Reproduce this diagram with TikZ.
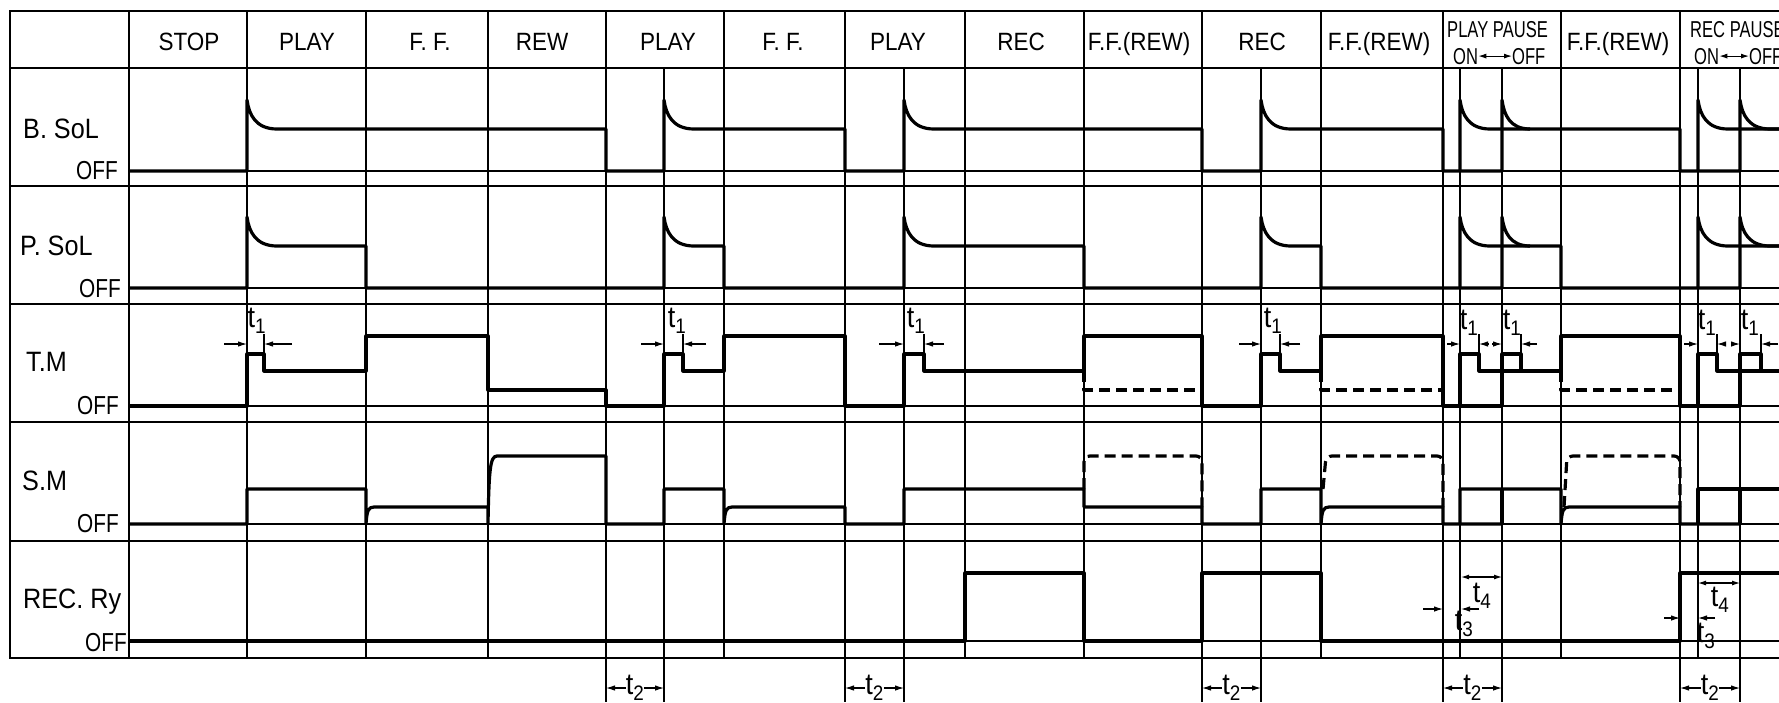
\documentclass[tikz,border=0pt]{standalone}
\usepackage{fontspec}
\setmainfont{Liberation Sans}[FakeStretch=0.9]
\newfontfamily\narrowfont{Liberation Sans}[FakeStretch=0.72]
\newfontfamily\offfont{Liberation Sans}[FakeStretch=0.8]
\usetikzlibrary{arrows.meta}
\begin{document}
\begin{tikzpicture}[x=1pt,y=-1pt,
  grid/.style={line width=1.1pt},
  frame/.style={line width=2pt},
  wave/.style={line width=3.2pt, line join=round},
  dashwave/.style={wave, dash pattern=on 11pt off 6pt},
  dim/.style={line width=1.1pt, -{Latex[length=9pt,width=5.5pt]}},
  dimb/.style={line width=1.1pt, {Latex[length=8pt,width=5pt]}-{Latex[length=8pt,width=5pt]}},
  hdr/.style={font=\fontsize{25}{30}\selectfont, inner sep=0pt, anchor=base},
  hdrn/.style={font=\narrowfont\fontsize{23}{28}\selectfont, inner sep=0pt, anchor=base west},
  lbl/.style={font=\fontsize{28}{32}\selectfont, inner sep=0pt, anchor=base west},
  offl/.style={font=\offfont\fontsize{26}{30}\selectfont, inner sep=0pt, anchor=base east},
  tl/.style={font=\fontsize{30}{34}\selectfont, inner sep=0pt}]
\fill[white] (0,0) rectangle (1779,702);
\useasboundingbox (0,0) rectangle (1779,702);
\clip (0,0) rectangle (1779,702);

% ---------- grid ----------
\foreach \y in {68,186,304,422,541} \draw[grid] (10,\y) -- (1779,\y);
\foreach \y in {171,288,406,524,641} \draw[grid] (129,\y) -- (1779,\y);
\foreach \x in {129,247,366,488,606,724,845,965,1084,1202,1321,1443,1561,1680}
  \draw[grid] (\x,11) -- (\x,658);
\foreach \x in {664,904,1261,1460,1502,1698,1740}
  \draw[grid] (\x,68) -- (\x,658);
\foreach \x in {606,664,845,904,1202,1261,1443,1502,1680,1740}
  \draw[grid] (\x,658) -- (\x,702);
\draw[frame] (1779,11) -- (10,11) -- (10,658) -- (1779,658);

% ---------- header ----------
\node[hdr] (hstop)  at (189,50) {STOP};
\node[hdr] (hplay1) at (307,50) {PLAY};
\node[hdr] (hff1)   at (430,50) {F. F.};
\node[hdr] (hrew)   at (542,50) {REW};
\node[hdr] (hplay2) at (668,50) {PLAY};
\node[hdr] (hff2)   at (783,50) {F. F.};
\node[hdr] (hplay3) at (898,50) {PLAY};
\node[hdr] (hrec1)  at (1021,50) {REC};
\node[hdr] (hffr1)  at (1139,50) {F.F.(REW)};
\node[hdr] (hrec2)  at (1262,50) {REC};
\node[hdr] (hffr2)  at (1379,50) {F.F.(REW)};
\node[hdrn] (hpp)    at (1447,37) {PLAY PAUSE};
\node[hdrn] (hppon)  at (1453,64) {ON};
\node[hdrn] (hppoff) at (1512,64) {OFF};
\draw[dimb] (hppon.east) -- (hppoff.west);
\node[hdr] (hffr3)  at (1618,50) {F.F.(REW)};
\node[hdrn] (hrp)    at (1690,37) {REC PAUSE};
\node[hdrn] (hrpon)  at (1694,64) {ON};
\node[hdrn] (hrpoff) at (1749,64) {OFF};
\draw[dimb] (hrpon.east) -- (hrpoff.west);

% ---------- row labels ----------
\node[lbl] (lbsol) at (23,138) {B. SoL};
\node[offl] (obsol) at (118,179) {OFF};
\node[lbl] (lpsol) at (20,255) {P. SoL};
\node[offl] (opsol) at (121,297) {OFF};
\node[lbl] (ltm) at (26,371) {T.M};
\node[offl] (otm) at (119,414) {OFF};
\node[lbl] (lsm) at (22,490) {S.M};
\node[offl] (osm) at (119,532) {OFF};
\node[lbl] (lrec) at (23,608) {REC. Ry};
\node[offl] (orec) at (127,651) {OFF};

% ---------- B.SoL ----------
\draw[wave] (129,171) -- (247,171) -- (247,100) .. controls (249,115) and (256,129) .. (277,129)
  -- (606,129) -- (606,171) -- (664,171) -- (664,100) .. controls (666,115) and (673,129) .. (694,129)
  -- (845,129) -- (845,171) -- (904,171) -- (904,100) .. controls (906,115) and (913,129) .. (934,129)
  -- (1202,129) -- (1202,171) -- (1261,171) -- (1261,100) .. controls (1263,115) and (1270,129) .. (1291,129)
  -- (1443,129) -- (1443,171) -- (1502,171) -- (1502,100) .. controls (1504,115) and (1510,129) .. (1530,129);
\draw[wave] (1460,171) -- (1460,100) .. controls (1462,115) and (1469,129) .. (1490,129)
  -- (1680,129) -- (1680,171) -- (1740,171) -- (1740,100) .. controls (1742,115) and (1749,129) .. (1770,129) -- (1779,129);
\draw[wave] (1698,171) -- (1698,100) .. controls (1700,115) and (1707,129) .. (1728,129) -- (1779,129);

% ---------- P.SoL ----------
\draw[wave] (129,288) -- (247,288) -- (247,217) .. controls (249,232) and (256,246) .. (277,246)
  -- (366,246) -- (366,288) -- (664,288) -- (664,217) .. controls (666,232) and (673,246) .. (694,246)
  -- (724,246) -- (724,288) -- (904,288) -- (904,217) .. controls (906,232) and (913,246) .. (934,246)
  -- (1084,246) -- (1084,288) -- (1261,288) -- (1261,217) .. controls (1263,232) and (1270,246) .. (1291,246)
  -- (1321,246) -- (1321,288) -- (1502,288) -- (1502,217) .. controls (1504,232) and (1510,246) .. (1530,246);
\draw[wave] (1460,288) -- (1460,217) .. controls (1462,232) and (1469,246) .. (1490,246)
  -- (1561,246) -- (1561,288) -- (1740,288) -- (1740,217) .. controls (1742,232) and (1749,246) .. (1770,246) -- (1779,246);
\draw[wave] (1698,288) -- (1698,217) .. controls (1700,232) and (1707,246) .. (1728,246) -- (1779,246);

% ---------- T.M ----------
\draw[wave] (129,406) -- (247,406) -- (247,354) -- (264,354) -- (264,371) -- (366,371) -- (366,336)
  -- (488,336) -- (488,390) -- (606,390) -- (606,406) -- (664,406) -- (664,354) -- (683,354) -- (683,371)
  -- (724,371) -- (724,336) -- (845,336) -- (845,406) -- (904,406) -- (904,354) -- (924,354) -- (924,371)
  -- (1084,371) -- (1084,336) -- (1202,336) -- (1202,406) -- (1261,406) -- (1261,354) -- (1280,354)
  -- (1280,371) -- (1321,371) -- (1321,336) -- (1443,336) -- (1443,406) -- (1502,406);
\draw[wave] (1460,406) -- (1460,354) -- (1479,354) -- (1479,371) -- (1561,371) -- (1561,336)
  -- (1680,336) -- (1680,406) -- (1740,406);
\draw[wave] (1502,406) -- (1502,354) -- (1521,354) -- (1521,371);
\draw[wave] (1698,406) -- (1698,354) -- (1717,354) -- (1717,371) -- (1779,371);
\draw[wave] (1740,406) -- (1740,354) -- (1761,354) -- (1761,371);
\draw[dashwave] (1084,371) -- (1084,390) -- (1202,390);
\draw[dashwave] (1321,371) -- (1321,390) -- (1443,390);
\draw[dashwave] (1561,371) -- (1561,390) -- (1680,390);

% t1 dimensions
\foreach \r/\e/\lt/\rt/\n in {247/264/224/292/a, 664/683/641/706/b, 904/924/879/944/c,
    1261/1280/1239/1300/d, 1460/1479/1447/1489/e, 1502/1521/1492/1537/f,
    1698/1717/1684/1726/g, 1740/1761/1732/1778/h} {
  \coordinate (t1l\n) at (\lt,344);
  \coordinate (t1r\n) at (\rt,344);
  \draw[dim] (t1l\n) -- (\r,344);
  \draw[dim] (t1r\n) -- (\e,344);
  \draw[grid] (\e,334) -- (\e,354);
}
\node[tl] (t1a) at (257,321) {t\textsubscript{1}};
\node[tl] (t1b) at (677,321) {t\textsubscript{1}};
\node[tl] (t1c) at (916,321) {t\textsubscript{1}};
\node[tl] (t1d) at (1273,321) {t\textsubscript{1}};
\node[tl] (t1e) at (1469,323) {t\textsubscript{1}};
\node[tl] (t1f) at (1512,323) {t\textsubscript{1}};
\node[tl] (t1g) at (1707,323) {t\textsubscript{1}};
\node[tl] (t1h) at (1750,323) {t\textsubscript{1}};

% ---------- S.M ----------
\draw[wave] (129,524) -- (247,524) -- (247,489) -- (366,489) -- (366,524)
  .. controls (367,511) and (368,507) .. (374,507) -- (488,507) -- (488,524)
  .. controls (489,470) and (490,456) .. (497,456) -- (606,456) -- (606,524) -- (664,524)
  -- (664,489) -- (724,489) -- (724,524) .. controls (725,511) and (726,507) .. (732,507)
  -- (845,507) -- (845,524) -- (904,524) -- (904,489) -- (1084,489) -- (1084,507) -- (1202,507)
  -- (1202,524) -- (1261,524) -- (1261,489) -- (1321,489) -- (1321,524)
  .. controls (1322,511) and (1323,507) .. (1329,507) -- (1443,507) -- (1443,524) -- (1502,524);
\draw[wave] (1460,524) -- (1460,489) -- (1561,489) -- (1561,524)
  .. controls (1562,511) and (1563,507) .. (1569,507) -- (1680,507) -- (1680,524) -- (1740,524);
\draw[wave] (1502,524) -- (1502,489);
\draw[wave] (1698,524) -- (1698,489) -- (1779,489);
\draw[wave] (1740,524) -- (1740,489);
\draw[dashwave, rounded corners=6pt] (1084,489) -- (1084,456) -- (1202,456) -- (1202,507);
\draw[dashwave, rounded corners=6pt] (1323,489) -- (1326,456) -- (1443,456) -- (1443,507);
\draw[dashwave, rounded corners=6pt] (1564,507) -- (1567,456) -- (1680,456) -- (1680,507);

% ---------- REC.Ry ----------
\draw[wave] (129,641) -- (965,641) -- (965,573) -- (1084,573) -- (1084,641) -- (1202,641)
  -- (1202,573) -- (1321,573) -- (1321,641) -- (1680,641) -- (1680,573) -- (1779,573);

% t3 / t4 dimensions
\coordinate (t3pa) at (1423,609);
\coordinate (t3pb) at (1479,609);
\draw[dim] (t3pa) -- (1443,609);
\draw[dim] (t3pb) -- (1461,609);
\node[tl] (t3p) at (1464,624) {t\textsubscript{3}};
\coordinate (t4pa) at (1461,577);
\coordinate (t4pb) at (1502,577);
\draw[dimb] (t4pa) -- (t4pb);
\node[tl] (t4p) at (1482,596) {t\textsubscript{4}};

\coordinate (t3ra) at (1664,618);
\coordinate (t3rb) at (1715,618);
\draw[dim] (t3ra) -- (1680,618);
\draw[dim] (t3rb) -- (1698,618);
\node[tl] (t3r) at (1706,636) {t\textsubscript{3}};
\coordinate (t4ra) at (1698,583);
\coordinate (t4rb) at (1740,583);
\draw[dimb] (t4ra) -- (t4rb);
\node[tl] (t4r) at (1720,600) {t\textsubscript{4}};

% t2 dimensions
\foreach \a/\b/\n in {606/664/a, 845/904/b, 1202/1261/c, 1443/1502/d, 1680/1740/e} {
  \node[tl] (t2\n) at ({(\a+\b)/2},688) {t\textsubscript{2}};
  \draw[dim] (t2\n.west) -- (\a,688);
  \draw[dim] (t2\n.east) -- (\b,688);
}
\end{tikzpicture}
\end{document}
